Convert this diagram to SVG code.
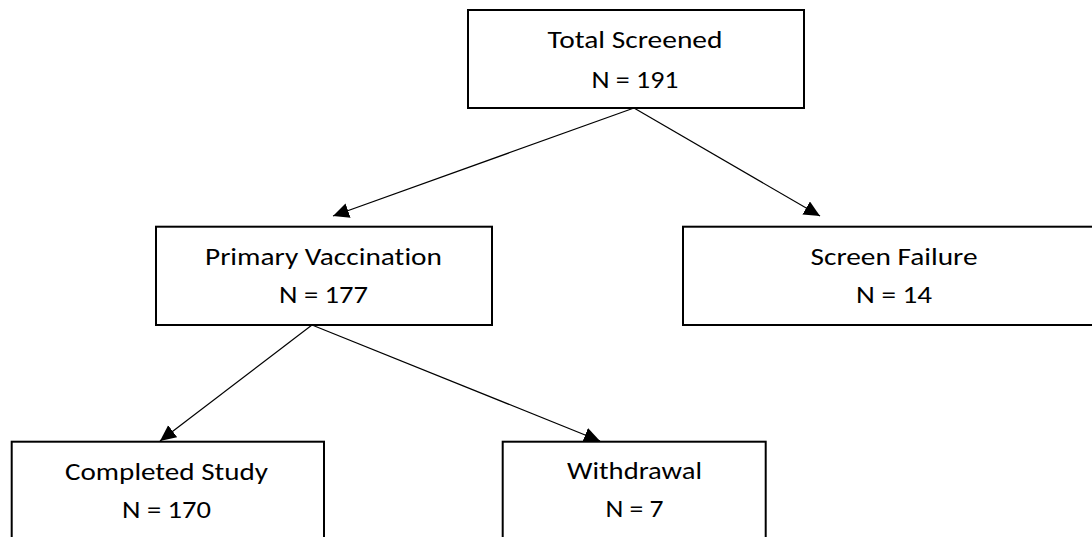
<svg xmlns="http://www.w3.org/2000/svg" width="1092" height="537" viewBox="0 0 1092 537">
<defs>
<style>
.box{fill:#ffffff;stroke:#000000;stroke-width:2}
.lbl{font-family:Carlito,Calibri,Lato,"Liberation Sans",sans-serif;font-size:25.5px;font-weight:300;font-variant-ligatures:none;fill:#000000;text-anchor:middle}
.conn{stroke:#000000;stroke-width:1.2;fill:none;marker-end:url(#arr)}
</style>
<marker id="arr" markerUnits="userSpaceOnUse" markerWidth="18" markerHeight="16" refX="16" refY="7.5" orient="auto">
<path d="M0,0 L16,7.5 L0,15 Z" fill="#000000"/>
</marker>
</defs>
<rect width="1092" height="537" fill="#ffffff"/>
<g id="connectors">
<line class="conn" x1="634" y1="108" x2="333" y2="216"/>
<line class="conn" x1="634" y1="108" x2="820" y2="216"/>
<line class="conn" x1="312" y1="325" x2="160" y2="441"/>
<line class="conn" x1="312" y1="325" x2="600" y2="441"/>
</g>
<g id="total-screened">
<rect class="box" x="468" y="10" width="336" height="98"/>
<text class="lbl" x="635" y="48" textLength="175" lengthAdjust="spacingAndGlyphs">Total Screened</text>
<text class="lbl" x="635" y="88" textLength="87" lengthAdjust="spacingAndGlyphs">N = 191</text>
</g>
<g id="primary-vaccination">
<rect class="box" x="156" y="226.7" width="336" height="98.3"/>
<text class="lbl" x="323.5" y="265" textLength="237" lengthAdjust="spacingAndGlyphs">Primary Vaccination</text>
<text class="lbl" x="323.5" y="303" textLength="89" lengthAdjust="spacingAndGlyphs">N = 177</text>
</g>
<g id="screen-failure">
<rect class="box" x="683" y="226.7" width="420" height="98.3"/>
<text class="lbl" x="894" y="265" textLength="167" lengthAdjust="spacingAndGlyphs">Screen Failure</text>
<text class="lbl" x="894" y="303" textLength="76" lengthAdjust="spacingAndGlyphs">N = 14</text>
</g>
<g id="completed-study">
<rect class="box" x="11.7" y="441.7" width="312.3" height="120"/>
<text class="lbl" x="166.5" y="480" textLength="203" lengthAdjust="spacingAndGlyphs">Completed Study</text>
<text class="lbl" x="166.5" y="518" textLength="89" lengthAdjust="spacingAndGlyphs">N = 170</text>
</g>
<g id="withdrawal">
<rect class="box" x="502.7" y="441.7" width="263" height="120"/>
<text class="lbl" x="634.5" y="479" textLength="135" lengthAdjust="spacingAndGlyphs">Withdrawal</text>
<text class="lbl" x="634.5" y="517" textLength="58" lengthAdjust="spacingAndGlyphs">N = 7</text>
</g>
</svg>
